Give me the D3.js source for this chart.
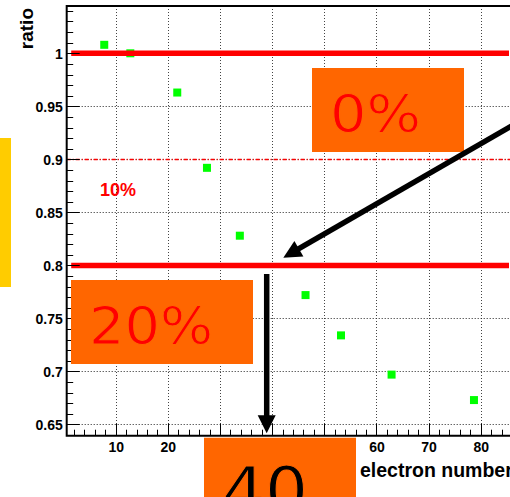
<!DOCTYPE html>
<html>
<head>
<meta charset="utf-8">
<script src="https://cdn.jsdelivr.net/npm/d3@7"></script>
<style>
  html, body { margin: 0; padding: 0; background: #ffffff; }
  svg { display: block; }
</style>
</head>
<body>
<svg id="chart" width="510" height="497"></svg>
<script>
// Ratio vs electron number
const electronNumber = [7.8, 12.8, 21.8, 27.5, 33.8, 46.4, 53.2, 62.9, 78.7];
const ratioValues    = [1.008, 1.0, 0.963, 0.892, 0.828, 0.772, 0.734, 0.697, 0.673];
const xTickValues = [10, 20, 30, 40, 50, 60, 70, 80];
const yTickValues = [0.65, 0.7, 0.75, 0.8, 0.85, 0.9, 0.95, 1];
const thickRefLevels = [1.0, 0.8];
const dashedRefLevel = 0.9;
const dashedRefLabel = "10%";
const boxLabels = ["0%", "20%", "40"];
const xTitle = "electron number";
const yTitle = "ratio";

(function () {
const svg = d3.select("#chart");
const W = 510, H = 497;

const pLeft = 66.7, pTop = 6, pBottom = 435.7, pRight = 532.9;
const x = d3.scaleLinear().domain([0.6, 90]).range([pLeft, pRight]);
const y = d3.scaleLinear().domain([0.6394, 1.0446]).range([pBottom, pTop]);
const crisp = v => Math.round(v) + 0.5;

const tickFont = "'Liberation Sans', Arial, Helvetica, sans-serif";

// grid
const grid = svg.append("g");
grid.selectAll("line.gx").data(xTickValues).join("line")
  .attr("x1", d => crisp(x(d))).attr("x2", d => crisp(x(d)))
  .attr("y1", pTop).attr("y2", pBottom)
  .attr("stroke", "#444").attr("stroke-width", 1).attr("stroke-dasharray", "1,2");
grid.selectAll("line.gy").data(yTickValues).join("line")
  .attr("x1", pLeft).attr("x2", W)
  .attr("y1", d => crisp(y(d))).attr("y2", d => crisp(y(d)))
  .attr("stroke", "#222").attr("stroke-width", 1).attr("stroke-dasharray", "1,2");

// points
svg.append("g").selectAll("rect").data(electronNumber).join("rect")
  .attr("x", (d) => x(d) - 4)
  .attr("y", (d, i) => y(ratioValues[i]) - 4)
  .attr("width", 8).attr("height", 8)
  .attr("fill", "#00ff00");

// reference levels
svg.append("line")
  .attr("x1", pLeft).attr("x2", W)
  .attr("y1", crisp(y(dashedRefLevel))).attr("y2", crisp(y(dashedRefLevel)))
  .attr("stroke", "#ff0000").attr("stroke-width", 1.4)
  .attr("stroke-dasharray", "4,2,1,2");
svg.append("g").selectAll("line").data(thickRefLevels).join("line")
  .attr("x1", pLeft + 4.5).attr("x2", W - 1)
  .attr("y1", d => y(d)).attr("y2", d => y(d))
  .attr("stroke", "#ff0000").attr("stroke-width", 5.5);

svg.append("text")
  .attr("x", 100).attr("y", 195.7)
  .attr("font-family", tickFont).attr("font-weight", "bold")
  .attr("font-size", 18).attr("fill", "#ff0000")
  .text(dashedRefLabel);

// axes
const yAxis = d3.axisLeft(y).tickValues(yTickValues).tickSize(0).tickPadding(4)
  .tickFormat(d => String(+d.toFixed(2)));
const gy = svg.append("g").attr("transform", `translate(${pLeft},0)`).call(yAxis);
gy.select(".domain").remove();
gy.selectAll("text").attr("font-family", tickFont).attr("font-weight", "bold")
  .attr("font-size", 14).attr("fill", "#000").attr("dy", "0.36em");

const xAxis = d3.axisBottom(x).tickValues(xTickValues).tickSize(0).tickPadding(6)
  .tickFormat(d3.format("d"));
const gx = svg.append("g").attr("transform", `translate(0,${pBottom})`).call(xAxis);
gx.select(".domain").remove();
gx.selectAll("text").attr("font-family", tickFont).attr("font-weight", "bold")
  .attr("font-size", 14).attr("fill", "#000").attr("dy", "0.72em");

// inner ticks
const yMinor = d3.range(0.64, 1.045, 0.01).map(v => +v.toFixed(2));
svg.append("g").selectAll("line").data(yMinor).join("line")
  .attr("x1", pLeft).attr("x2", d => pLeft + (Math.abs(d * 20 - Math.round(d * 20)) < 1e-6 ? 13 : 6.5))
  .attr("y1", d => crisp(y(d))).attr("y2", d => crisp(y(d)))
  .attr("stroke", "#000").attr("stroke-width", 1);
const xMinor = d3.range(2, 90, 2);
svg.append("g").selectAll("line").data(xMinor).join("line")
  .attr("x1", d => crisp(x(d))).attr("x2", d => crisp(x(d)))
  .attr("y1", pBottom).attr("y2", d => pBottom - (d % 10 === 0 ? 12 : 6))
  .attr("stroke", "#000").attr("stroke-width", 1);

// frame
svg.append("path")
  .attr("d", `M${pRight},${pTop}H${pLeft}V${pBottom}H${pRight}`)
  .attr("fill", "none").attr("stroke", "#000").attr("stroke-width", 2);

// axis titles
svg.append("text")
  .attr("transform", `translate(33,8) rotate(-90)`)
  .attr("text-anchor", "end")
  .attr("font-family", tickFont).attr("font-weight", "bold").attr("font-size", 19)
  .text(yTitle);
svg.append("text")
  .attr("x", 360).attr("y", 476.7)
  .attr("font-family", tickFont).attr("font-weight", "bold").attr("font-size", 19.5)
  .text(xTitle);

// side marker
svg.append("rect").attr("x", 0).attr("y", 138).attr("width", 11).attr("height", 149)
  .attr("fill", "#ffcc00");

// annotation boxes
const boxFill = "#ff6600";
const boxes = [
  { x: 312, y: 68, w: 152, h: 84, fs: 52, base: 63.7, len: 91, color: "#ff0000" },
  { x: 71, y: 280, w: 182, h: 84, fs: 52, base: 63.7, len: 124, color: "#ff0000" },
  { x: 204, y: 437.7, w: 152, h: 80, fs: 64, base: 75, len: 86, color: "#000000" }
];
const bg = svg.append("g").selectAll("g").data(boxLabels).join("g");
bg.append("rect")
  .attr("x", (d, i) => boxes[i].x).attr("y", (d, i) => boxes[i].y)
  .attr("width", (d, i) => boxes[i].w).attr("height", (d, i) => boxes[i].h)
  .attr("fill", boxFill);
// thin outline in the box colour keeps the large glyphs light
bg.append("text")
  .attr("x", (d, i) => boxes[i].x + 18).attr("y", (d, i) => boxes[i].y + boxes[i].base)
  .attr("font-family", "'DejaVu Sans', Verdana, sans-serif")
  .attr("font-size", (d, i) => boxes[i].fs)
  .attr("textLength", (d, i) => boxes[i].len)
  .attr("lengthAdjust", "spacingAndGlyphs")
  .attr("fill", (d, i) => boxes[i].color)
  .attr("stroke", boxFill).attr("stroke-width", 1)
  .text(d => d);

// arrows
function arrow(x0, y0, x1, y1, headLen, headHalf, width) {
  const dx = x1 - x0, dy = y1 - y0, L = Math.hypot(dx, dy);
  const ux = dx / L, uy = dy / L, px = -uy, py = ux;
  const bx = x1 - ux * headLen, by = y1 - uy * headLen;
  svg.append("line").attr("x1", x0).attr("y1", y0).attr("x2", bx + ux * 2).attr("y2", by + uy * 2)
    .attr("stroke", "#000").attr("stroke-width", width);
  svg.append("path")
    .attr("d", `M${x1},${y1}L${bx + px * headHalf},${by + py * headHalf}L${bx - px * headHalf},${by - py * headHalf}Z`)
    .attr("fill", "#000");
}
arrow(525.8, 117.7, 283.3, 257.7, 18, 9, 5.5);
arrow(266.7, 274, 266.7, 433.3, 18, 9, 5.5);
})();
</script>
</body>
</html>
